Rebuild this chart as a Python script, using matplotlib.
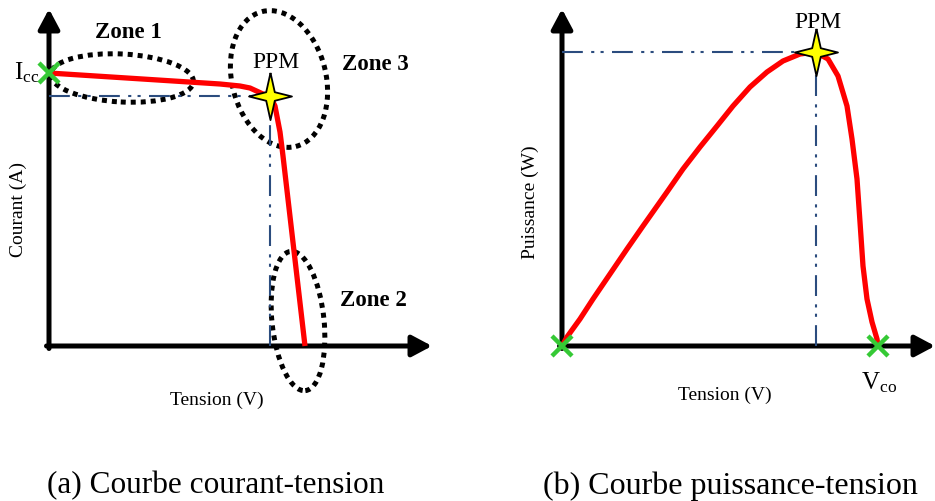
import matplotlib
matplotlib.use("Agg")
import matplotlib.pyplot as plt
from matplotlib.patches import Ellipse
from matplotlib.path import Path

plt.rcParams['font.family'] = ['Liberation Serif', 'DejaVu Serif']
plt.rcParams['mathtext.fontset'] = 'custom'
plt.rcParams['mathtext.rm'] = 'Liberation Serif'

# I-V curve (arbitrary units)
iv_v = [0.0, 17.1, 19.1, 20.1, 21.4, 22.1, 22.6, 23.1, 23.4, 25.6]
iv_i = [27.3, 26.2, 26.0, 25.8, 25.2, 25.0, 24.0, 21.4, 19.0, 0.0]
iv_mpp = (22.1, 25.0)
iv_isc = (0.0, 27.3)

# P-V curve
pv_v = [0.0, 0.5, 1.8, 3.1, 4.8, 6.5, 8.1, 10.5, 12.1, 13.8, 15.5, 17.1,
        18.8, 20.5, 22.1, 23.8, 25.3, 26.6, 27.6, 28.5, 29.0, 29.5, 29.8,
        30.1, 30.5, 31.0, 31.5, 31.6]
pv_p = [0.0, 0.9, 2.7, 4.7, 7.2, 9.7, 12.0, 15.4, 17.7, 19.9, 22.0, 24.0,
        25.9, 27.4, 28.5, 29.2, 29.4, 28.7, 27.0, 24.0, 20.7, 16.7, 12.4,
        8.0, 4.7, 2.4, 0.7, 0.0]
pv_mpp = (25.4, 29.4)
pv_voc = (31.6, 0.0)

# zones on the I-V curve: centre, width, height, angle, label position
zones = {
    'Zone 1': ((7.3, 26.8), 14.3, 4.8, -3, (7.9, 31.4)),
    'Zone 3': ((23.0, 26.7), 9.4, 13.9, 14, (32.6, 28.2)),
    'Zone 2': ((24.9, 2.5), 5.2, 14.0, 6, (32.4, 4.7)),
}

W, H = 935, 502
fig = plt.figure(figsize=(W / 100, H / 100), dpi=100)

red = '#ff0000'
green = '#35c935'
blue = '#2b4c7e'
dashdot = (0, (10, 4, 1.5, 3, 1.5, 4))

star = Path([(0, 1.1), (0.2, 0.2), (1, 0), (0.2, -0.2), (0, -1.1),
             (-0.2, -0.2), (-1, 0), (-0.2, 0.2), (0, 1.1)])


def make_axes(x0, x1, y_top=10, y_bot=347):
    ax = fig.add_axes([x0 / W, (H - y_bot) / H, (x1 - x0) / W, (y_bot - y_top) / H])
    xmax, ymax = (x1 - x0) / 10, (y_bot - y_top) / 10
    ax.set_xlim(0, xmax)
    ax.set_ylim(0, ymax)
    ax.axis('off')
    arrow = dict(arrowstyle='-|>,head_length=0.6,head_width=0.32', lw=3.6,
                 color='black', mutation_scale=20, shrinkA=0, shrinkB=0)
    ax.annotate('', xy=(xmax, 0), xytext=(-0.25, 0), arrowprops=arrow,
                annotation_clip=False)
    ax.annotate('', xy=(0, ymax), xytext=(0, -0.25), arrowprops=arrow,
                annotation_clip=False)
    return ax


def mark_star(ax, pt):
    ax.plot(*pt, marker=star, ms=34, mfc='#ffff00', mec='black', mew=1.3,
            zorder=6, clip_on=False)


def mark_x(ax, pt):
    ax.plot(*pt, marker='x', ms=15, mec=green, mew=3.2, zorder=6, clip_on=False)


# (a) courant-tension
ax1 = make_axes(49, 432)
for name, (c, w, h, a, tpos) in zones.items():
    ax1.add_patch(Ellipse(c, w, h, angle=a, fill=False, ec='black', lw=3.6,
                          linestyle=(0, (1.0, 1.0)), zorder=2, clip_on=False))
    ax1.text(*tpos, name, ha='center', va='center', fontsize=16.5,
             fontweight='bold')
ax1.plot([0, iv_mpp[0]], [iv_mpp[1]] * 2, color=blue, lw=1.5, ls=dashdot, zorder=3)
ax1.plot([iv_mpp[0]] * 2, [0, iv_mpp[1]], color=blue, lw=1.5, ls=dashdot, zorder=3)
ax1.plot(iv_v, iv_i, color=red, lw=3.8, zorder=4, clip_on=False,
         solid_capstyle='butt', solid_joinstyle='round')
mark_star(ax1, iv_mpp)
mark_x(ax1, iv_isc)
ax1.text(iv_mpp[0] + 0.6, 28.4, 'PPM', ha='center', va='center', fontsize=17)
ax1.text(-0.9, 27.4, r'$\mathrm{I_{cc}}$', ha='right', va='center', fontsize=18)
ax1.text(-3.1, 13.7, 'Courant (A)', rotation=90, ha='center', va='center',
         fontsize=14)
ax1.text(16.8, -5.3, 'Tension (V)', ha='center', va='center', fontsize=14)

# (b) puissance-tension
ax2 = make_axes(562, 935)
ax2.plot([0, pv_mpp[0]], [pv_mpp[1]] * 2, color=blue, lw=1.5, ls=dashdot, zorder=3)
ax2.plot([pv_mpp[0]] * 2, [0, pv_mpp[1]], color=blue, lw=1.5, ls=dashdot, zorder=3)
ax2.plot(pv_v, pv_p, color=red, lw=3.8, zorder=4, clip_on=False,
         solid_capstyle='butt', solid_joinstyle='round')
mark_star(ax2, pv_mpp)
mark_x(ax2, (0, 0))
mark_x(ax2, pv_voc)
ax2.text(pv_mpp[0] + 0.2, 32.4, 'PPM', ha='center', va='center', fontsize=17)
ax2.text(pv_voc[0] + 0.1, -3.6, r'$\mathrm{V_{co}}$', ha='center', va='center',
         fontsize=18)
ax2.text(-3.2, 14.5, 'Puissance (W)', rotation=90, ha='center', va='center',
         fontsize=14)
ax2.text(16.3, -4.8, 'Tension (V)', ha='center', va='center', fontsize=14)

fig.text(216 / W, 1 - 486 / H, '(a) Courbe courant-tension', ha='center',
         va='center', fontsize=22.5)
fig.text(730 / W, 1 - 486 / H, '(b) Courbe puissance-tension', ha='center',
         va='center', fontsize=23)

fig.savefig('out.png', dpi=100)
